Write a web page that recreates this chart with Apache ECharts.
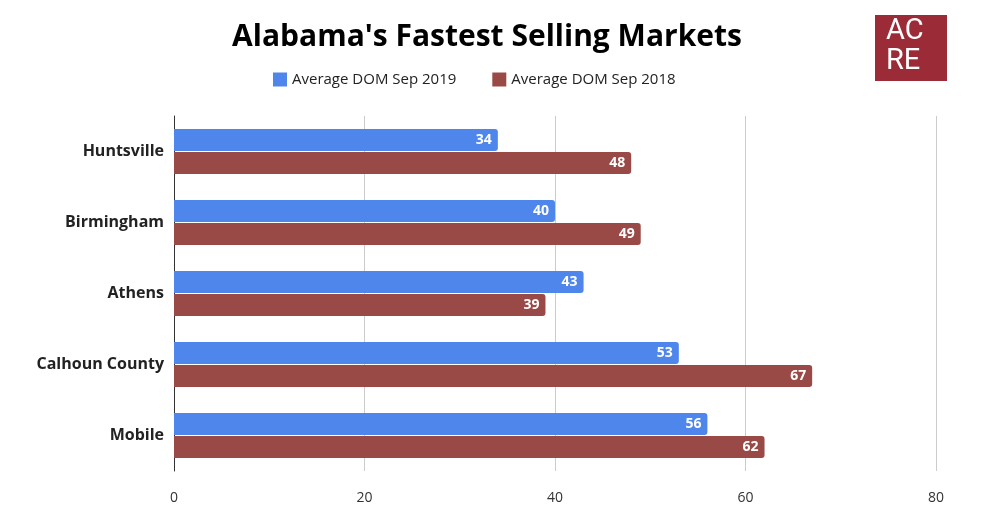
<!DOCTYPE html>
<html>
<head>
<meta charset="utf-8">
<script src="https://cdn.jsdelivr.net/npm/echarts@6/dist/echarts.min.js"></script>
<style>html,body{margin:0;padding:0;background:#fff}#chart{width:1000px;height:523px}</style>
</head>
<body>
<div id="chart"></div>
<script>
var markets = ['Huntsville', 'Birmingham', 'Athens', 'Calhoun County', 'Mobile'];
var dom2019 = [34, 40, 43, 53, 56];
var dom2018 = [48, 49, 39, 67, 62];

var chart = echarts.init(document.getElementById('chart'));
var labelOpt = {show: true, position: 'insideRight', color: '#fff', fontWeight: 'bold', fontSize: 14, fontFamily: 'Open Sans', distance: 6};

chart.setOption({
	title: {text: "Alabama's Fastest Selling Markets", left: 482, top: 17, textAlign: 'center',
		textStyle: {fontSize: 30, fontWeight: 'bold', color: '#000', fontFamily: 'Open Sans'}},
	legend: {top: 67, left: 268, itemWidth: 14, itemHeight: 14, itemGap: 36, icon: 'rect',
		textStyle: {fontSize: 15, color: '#222', fontFamily: 'Open Sans'}},
	graphic: [
		{type: 'rect', left: 875, top: 15, shape: {width: 72, height: 66}, style: {fill: '#9b2b36'}},
		{type: 'text', left: 886, top: 17, style: {text: 'AC\nRE', fill: '#fff', font: '29px Roboto', lineHeight: 30}}
	],
	grid: {left: 174, right: 64, top: 116, bottom: 52},
	xAxis: {type: 'value', min: 0, max: 80, interval: 20,
		axisLabel: {color: '#333', fontSize: 14, fontFamily: 'Open Sans', margin: 20},
		splitLine: {lineStyle: {color: '#ccc'}}},
	yAxis: {type: 'category', data: markets, inverse: true,
		axisTick: {show: false}, axisLine: {lineStyle: {color: '#333'}},
		axisLabel: {color: '#222', fontSize: 16, fontWeight: 'bold', fontFamily: 'Open Sans', margin: 10}},
	series: [
		{name: 'Average DOM Sep 2019', type: 'bar', data: dom2019, barWidth: 22, barGap: '5%',
			itemStyle: {color: '#4f86ec', borderRadius: [0, 3, 3, 0]}, label: labelOpt},
		{name: 'Average DOM Sep 2018', type: 'bar', data: dom2018, barWidth: 22,
			itemStyle: {color: '#9a4a46', borderRadius: [0, 3, 3, 0]}, label: labelOpt}
	]
});
</script>
</body>
</html>
